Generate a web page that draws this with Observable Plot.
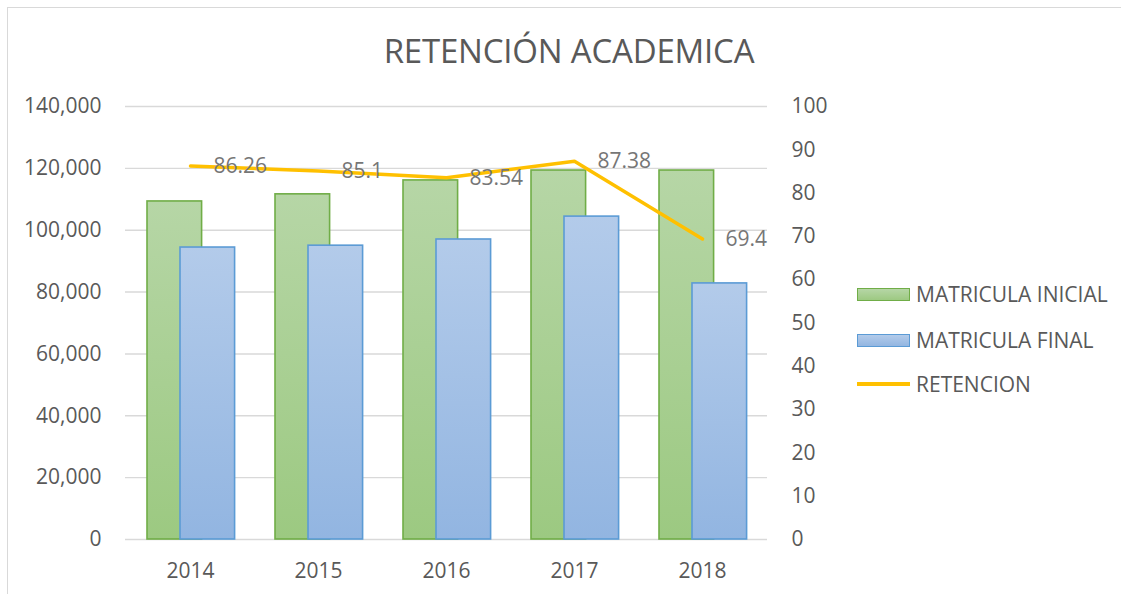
<!DOCTYPE html>
<html>
<head>
<meta charset="utf-8">
<script src="https://cdn.jsdelivr.net/npm/d3@7"></script>
<script src="https://cdn.jsdelivr.net/npm/@observablehq/plot@0.6"></script>
<style>
  html, body { margin: 0; padding: 0; background: #fff; }
  #wrap { position: relative; width: 1121px; height: 594px; overflow: hidden; font-family: "Open Sans", sans-serif; }
  #frame { position: absolute; left: 7px; top: 7px; width: 1200px; height: 700px; border-left: 1.5px solid #d9d9d9; border-top: 1.5px solid #d9d9d9; }
  #title { position: absolute; left: 0; width: 1138px; top: 28px; text-align: center; font-size: 33px; color: #595959; line-height: 46px; letter-spacing: -0.2px; }
  #chart { position: absolute; left: 0; top: 0; }
  .leg { position: absolute; left: 857px; font-size: 21px; color: #595959; }
  .leg .sw { position: absolute; left: 0; width: 51px; height: 11px; }
  .leg .tx { position: absolute; left: 59px; white-space: nowrap; line-height: 24px; top: -12px; }
</style>
</head>
<body>
<div id="wrap">
  <div id="frame"></div>
  <div id="chart"></div>
  <div id="title">RETENCIÓN ACADEMICA</div>
  <div class="leg" style="top:294px"><div class="sw" style="top:-6px;background:linear-gradient(#b6d6a6,#9dc982);border:1.5px solid #70ad47"></div><div class="tx">MATRICULA INICIAL</div></div>
  <div class="leg" style="top:340px"><div class="sw" style="top:-6px;background:linear-gradient(#b3cbea,#93b6e1);border:1.5px solid #5b9bd5"></div><div class="tx">MATRICULA FINAL</div></div>
  <div class="leg" style="top:384px"><div class="sw" style="top:-2px;height:3.5px;width:53px;background:#ffc000"></div><div class="tx">RETENCION</div></div>
</div>
<script>
const years = ["2014", "2015", "2016", "2017", "2018"];
const matriculaInicial = [109300, 111600, 116100, 119300, 119300];
const matriculaFinal = [94400, 95000, 97000, 104400, 82800];
const retencion = [86.26, 85.1, 83.54, 87.38, 69.4];
const leftTicks = [0, 20000, 40000, 60000, 80000, 100000, 120000, 140000];
const rightTicks = [0, 10, 20, 30, 40, 50, 60, 70, 80, 90, 100];

const ratio = 140000 / 100; // right axis 0–100 maps onto left 0–140,000
const data = years.map((y, i) => ({year: y, inicial: matriculaInicial[i], final: matriculaFinal[i], ret: retencion[i]}));

const chart = Plot.plot({
  width: 1121,
  height: 594,
  marginLeft: 125,
  marginRight: 354,
  marginTop: 106,
  marginBottom: 55,
  style: {fontFamily: "Open Sans, sans-serif", fontSize: "21px", color: "#595959", background: "transparent"},
  x: {type: "band", domain: years, padding: 0, label: null},
  y: {domain: [0, 140000], label: null},
  marks: [
    Plot.ruleY(leftTicks, {stroke: "#d9d9d9", strokeWidth: 1.4}),
    Plot.barY(data, {x: "year", y: "inicial", fill: "url(#gGreen)", stroke: "#70ad47", strokeWidth: 1.6, insetLeft: 21, insetRight: 52.4}),
    Plot.barY(data, {x: "year", y: "final", fill: "url(#gBlue)", stroke: "#5b9bd5", strokeWidth: 1.6, insetLeft: 54, insetRight: 19.4}),
    Plot.line(data, {x: "year", y: d => d.ret * ratio, stroke: "#ffc000", strokeWidth: 3.5, strokeLinejoin: "miter"}),
    Plot.text(data, {x: "year", y: d => d.ret * ratio, text: d => String(d.ret), textAnchor: "start", dx: 23, fill: "#767676", fontSize: 21}),
    Plot.axisY(leftTicks, {anchor: "left", tickSize: 0, tickPadding: 24, tickFormat: d3.format(","), fill: "#595959", label: null}),
    Plot.axisY(rightTicks.map(v => v * ratio), {anchor: "right", tickSize: 0, tickPadding: 24, tickFormat: d => String(Math.round(d / ratio)), fill: "#595959", label: null}),
    Plot.axisX({tickSize: 0, tickPadding: 24, fill: "#595959", label: null})
  ]
});

const ns = "http://www.w3.org/2000/svg";
const defs = document.createElementNS(ns, "defs");
function grad(id, top, bottom) {
  const g = document.createElementNS(ns, "linearGradient");
  g.setAttribute("id", id);
  g.setAttribute("x1", "0"); g.setAttribute("y1", "0"); g.setAttribute("x2", "0"); g.setAttribute("y2", "1");
  [[0, top], [1, bottom]].forEach(([o, c]) => {
    const s = document.createElementNS(ns, "stop");
    s.setAttribute("offset", o);
    s.setAttribute("stop-color", c);
    g.appendChild(s);
  });
  defs.appendChild(g);
}
grad("gGreen", "#b6d6a6", "#9cc981");
grad("gBlue", "#b3cbea", "#92b5e1");
chart.insertBefore(defs, chart.firstChild);
document.getElementById("chart").appendChild(chart);
</script>
</body>
</html>
